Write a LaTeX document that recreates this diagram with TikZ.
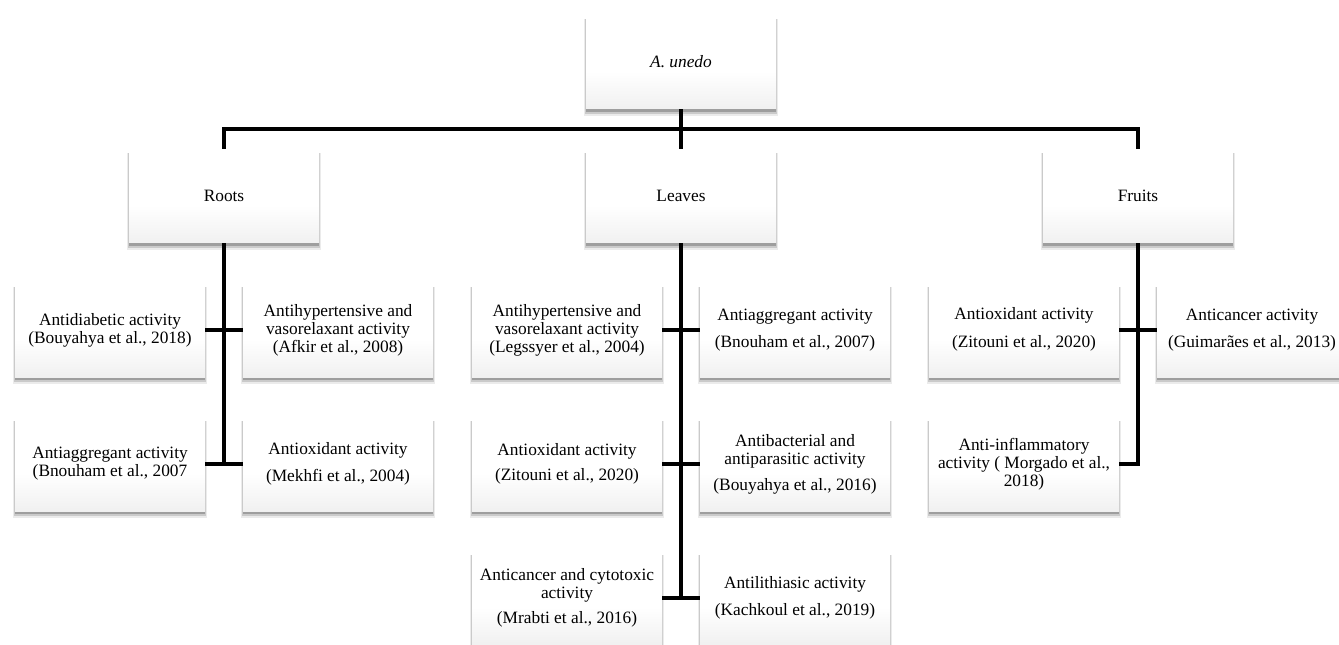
\documentclass[tikz,border=0pt]{standalone}
\usepackage{fontspec}
\setmainfont{Liberation Serif}
\usetikzlibrary{shadows}
\pgfdeclareverticalshading{boxshade}{100bp}{color(0bp)=(black!13); color(45bp)=(white); color(100bp)=(white)}
\tikzset{
  boxst/.style={rectangle, minimum width=142.5pt, minimum height=70.5pt, inner sep=2pt,
    shading=boxshade, align=center, font=\fontsize{13}{13.5}\selectfont,
    general shadow={shadow xshift=0pt, shadow yshift=-4pt, shadow scale=1.025, fill=black, opacity=0.08},
    general shadow={shadow xshift=0pt, shadow yshift=-3.2pt, shadow scale=1.014, fill=black, opacity=0.14},
    general shadow={shadow xshift=0pt, shadow yshift=-2.4pt, shadow scale=1.005, fill=black, opacity=0.22}},
  conn/.style={line width=2.4pt, black}
}
\begin{document}
\begin{tikzpicture}[x=0.75pt,y=-0.75pt]
\useasboundingbox (0,0) rectangle (1339,645);
% level 0 and 1
\node[boxst] (top) at (681,62) {\itshape A. unedo};
\node[boxst] (roots) at (224,196) {Roots};
\node[boxst] (leaves) at (681,196) {Leaves};
\node[boxst] (fruits) at (1138,196) {Fruits};
% roots children
\node[boxst] (rA) at (110,330) {Antidiabetic activity\\(Bouyahya et al., 2018)};
\node[boxst] (rB) at (338,330) {Antihypertensive and\\vasorelaxant activity\\(Afkir et al., 2008)};
\node[boxst] (rC) at (110,464) {Antiaggregant activity\\(Bnouham et al., 2007};
\node[boxst] (rD) at (338,464) {Antioxidant activity\\[7pt](Mekhfi et al., 2004)};
% leaves children
\node[boxst] (lA) at (567,330) {Antihypertensive and\\vasorelaxant activity\\(Legssyer et al., 2004)};
\node[boxst] (lB) at (795,330) {Antiaggregant activity\\[7pt](Bnouham et al., 2007)};
\node[boxst] (lC) at (567,464) {Antioxidant activity\\[5pt](Zitouni et al., 2020)};
\node[boxst] (lD) at (795,464) {Antibacterial and\\antiparasitic activity\\[6pt](Bouyahya et al., 2016)};
\node[boxst] (lE) at (567,598) {Anticancer and cytotoxic\\activity\\[5pt](Mrabti et al., 2016)};
\node[boxst] (lF) at (795,598) {Antilithiasic activity\\[7pt](Kachkoul et al., 2019)};
% fruits children
\node[boxst] (fA) at (1024,330) {\raisebox{6pt}{\begin{tabular}{@{}c@{}}Antioxidant activity\\[7pt](Zitouni et al., 2020)\end{tabular}}};
\node[boxst] (fB) at (1252,330) {Anticancer activity\\[7pt](Guimarães et al., 2013)};
\node[boxst] (fC) at (1024,464) {Anti-inflammatory\\activity ( Morgado et al.,\\2018)};
% connectors
\coordinate (bus) at (681,129);
\draw[conn] (top.south) -- (top.south |- bus);
\draw[conn] (roots.north) -- (roots.north |- bus) -- (fruits.north |- bus) -- (fruits.north);
\draw[conn] (leaves.north) -- (leaves.north |- bus);
\draw[conn] (roots.south) -- (roots.south |- rC.east);
\draw[conn] (rA.east) -- (rB.west);
\draw[conn] (rC.east) -- (rD.west);
\draw[conn] (leaves.south) -- (leaves.south |- lE.east);
\draw[conn] (lA.east) -- (lB.west);
\draw[conn] (lC.east) -- (lD.west);
\draw[conn] (lE.east) -- (lF.west);
\draw[conn] (fruits.south) -- (fruits.south |- fC.east) -- (fC.east);
\draw[conn] (fA.east) -- (fB.west);
\end{tikzpicture}
\end{document}
